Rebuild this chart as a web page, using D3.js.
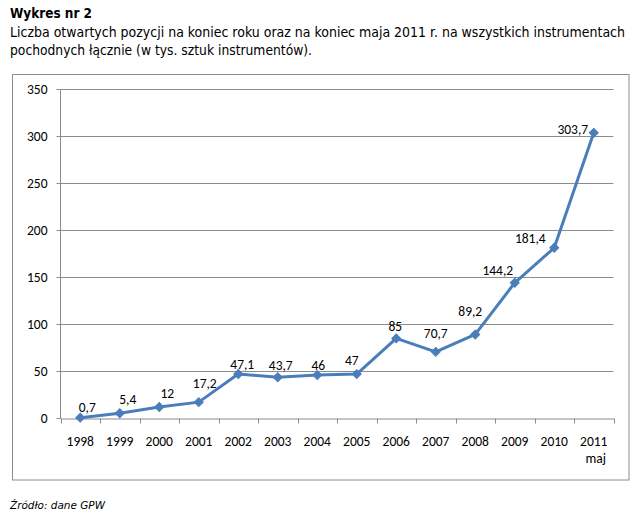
<!DOCTYPE html>
<html><head><meta charset="utf-8">
<script src="https://cdn.jsdelivr.net/npm/d3@7"></script>
<style>
body{margin:0;background:#fff;}
svg{display:block;}
</style></head>
<body>
<script>
// ---- data ----
const years = ["1998","1999","2000","2001","2002","2003","2004","2005","2006","2007","2008","2009","2010","2011"];
const yearSub = ["","","","","","","","","","","","","","maj"];
const values = [0.7,5.4,12,17.2,47.1,43.7,46,47,85,70.7,89.2,144.2,181.4,303.7];
const valueLabels = ["0,7","5,4","12","17,2","47,1","43,7","46","47","85","70,7","89,2","144,2","181,4","303,7"];
const yTicks = [0,50,100,150,200,250,300,350];
const titleText = "Wykres nr 2";
const subtitleLines = ["Liczba otwartych pozycji na koniec roku oraz na koniec maja 2011 r. na wszystkich instrumentach",
                       "pochodnych łącznie (w tys. sztuk instrumentów)."];
const sourceText = "Źródło: dane GPW";

// ---- layout (label offsets relative to points, in px) ----
const labelDx = [7,8,8,6,4,3,1,-5,-1,0,-5,-17,-24,-21];
const labelDy = [-11,-14,-14,-19,-10,-12,-10,-14,-12,-19,-23,-13,-10,-4];

(function(){
const W=640,H=515;
const svg=d3.select("body").append("svg").attr("width",W).attr("height",H);
svg.append("rect").attr("width",W).attr("height",H).attr("fill","#fff");

const txtFont="Tahoma, 'DejaVu Sans Condensed', 'DejaVu Sans', sans-serif";
svg.append("text").attr("x",10).attr("y",18).attr("font-family",txtFont).attr("font-weight","bold")
  .attr("font-size",13.5).attr("fill","#000").attr("textLength",82).attr("lengthAdjust","spacingAndGlyphs").text(titleText);
const subLen=[615,302];
subtitleLines.forEach((s,i)=>{
  svg.append("text").attr("x",10).attr("y",37+i*18).attr("font-family",txtFont)
   .attr("font-size",13.5).attr("fill","#000").attr("textLength",subLen[i]).attr("lengthAdjust","spacingAndGlyphs").text(s);
});

// frame
svg.append("rect").attr("x",12.5).attr("y",74.5).attr("width",616.5).attr("height",405.5)
  .attr("fill","none").attr("stroke","#8c8c8c").attr("stroke-width",1);

const pL=60.5,pR=613.5,pT=89.3,pB=418.3;
const x=d3.scaleBand().domain(years).range([pL,pR]).padding(0);
const y=d3.scaleLinear().domain([0,350]).range([pB,pT]);
const ry=v=>Math.round(y(v))+0.5;

const chartFont="Carlito, Calibri, Lato, 'Open Sans', sans-serif";
const fs=13.5;

// gridlines
svg.append("g").selectAll("line").data(yTicks.filter(d=>d>0)).join("line")
  .attr("x1",pL).attr("x2",pR).attr("y1",ry).attr("y2",ry)
  .attr("stroke","#8c8c8c").attr("stroke-width",1);

// y axis
const yAxis=svg.append("g").attr("transform",`translate(${pL},0)`)
  .call(d3.axisLeft(y).tickValues(yTicks).tickSize(4).tickPadding(9).tickFormat(d=>d));
yAxis.select(".domain").attr("stroke","#8c8c8c").attr("d",`M0,${ry(350)}V${ry(0)}`);
yAxis.selectAll(".tick line").attr("stroke","#8c8c8c");
yAxis.selectAll(".tick").attr("transform",d=>`translate(0,${ry(d)})`);
yAxis.selectAll("text").attr("font-family",chartFont).attr("font-size",fs).attr("fill","#000");

// x axis
const xAxis=svg.append("g").attr("transform",`translate(0,${ry(0)})`)
  .call(d3.axisBottom(x).tickSize(0).tickPadding(0).tickFormat(""));
xAxis.select(".domain").attr("stroke","#8c8c8c");
xAxis.selectAll(".tick").remove();
const bounds=years.map(d=>x(d)).concat([x(years[years.length-1])+x.bandwidth()]);
xAxis.selectAll("line.tk").data(bounds).join("line").attr("class","tk")
  .attr("x1",d=>Math.round(d)+0.5).attr("x2",d=>Math.round(d)+0.5).attr("y1",0).attr("y2",5).attr("stroke","#8c8c8c");
xAxis.selectAll("text.cat").data(years).join("text").attr("class","cat")
  .attr("x",d=>x(d)+x.bandwidth()/2).attr("y",27).attr("text-anchor","middle")
  .attr("font-family",chartFont).attr("font-size",fs).attr("fill","#000").text(d=>d);
xAxis.selectAll("text.sub").data(years.map((d,i)=>({d,s:yearSub[i]})).filter(o=>o.s)).join("text").attr("class","sub")
  .attr("x",o=>x(o.d)+x.bandwidth()/2+2).attr("y",44).attr("text-anchor","middle")
  .attr("font-family",chartFont).attr("font-size",fs).attr("fill","#000").text(o=>o.s);

// line
const cx=i=>x(years[i])+x.bandwidth()/2;
const line=d3.line().x((d,i)=>cx(i)).y(d=>y(d));
svg.append("path").datum(values).attr("d",line).attr("fill","none")
  .attr("stroke","#4a7ebb").attr("stroke-width",3).attr("stroke-linejoin","round");

// markers (diamonds)
svg.append("g").selectAll("path").data(values).join("path")
  .attr("d",d3.symbol().type(d3.symbolSquare).size(40))
  .attr("transform",(d,i)=>`translate(${cx(i)},${y(d)}) rotate(45)`)
  .attr("fill","#4a7ebb").attr("stroke","#4a7ebb").attr("stroke-width",1);

// value labels
svg.append("g").selectAll("text").data(values).join("text")
  .attr("x",(d,i)=>cx(i)+labelDx[i]).attr("y",(d,i)=>y(d)+labelDy[i]+5)
  .attr("text-anchor","middle").attr("font-family",chartFont).attr("font-size",fs).attr("fill","#000")
  .text((d,i)=>valueLabels[i]);

// source
svg.append("text").attr("x",10).attr("y",509).attr("font-family",txtFont).attr("font-style","italic")
  .attr("font-size",11).attr("fill","#000").attr("textLength",95).attr("lengthAdjust","spacingAndGlyphs").text(sourceText);
})();
</script>
</body></html>
